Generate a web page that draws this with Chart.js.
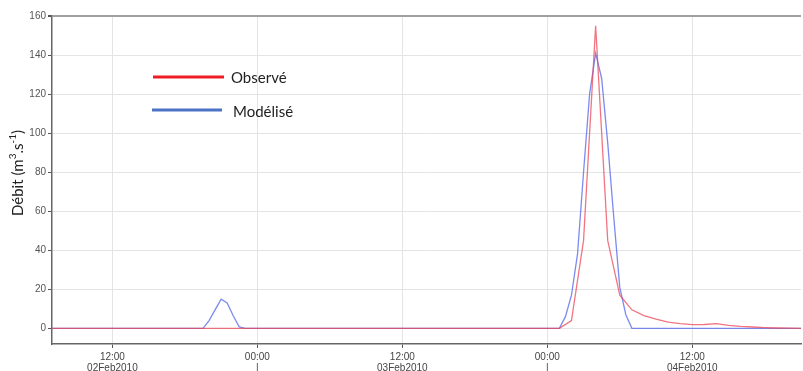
<!DOCTYPE html>
<html>
<head>
<meta charset="utf-8">
<script src="https://cdn.jsdelivr.net/npm/chart.js@4.4.1/dist/chart.umd.min.js"></script>
<style>
  html, body { margin: 0; padding: 0; background: #fff; }
  #wrap { width: 803px; height: 371px; }
</style>
</head>
<body>
<div id="wrap"><canvas id="debitChart" width="803" height="371"></canvas></div>
<script>
// hours counted from 02Feb2010 00:00
const obsHours = [7, 49, 50, 51, 52, 53, 54, 55, 56, 57, 58, 59, 60, 61, 62, 63, 64, 65, 66, 67, 68, 69];
const obsValues = [0, 0, 4, 45, 155, 45, 17, 9.5, 6.5, 4.7, 3.2, 2.4, 1.9, 2.0, 2.4, 1.5, 1.0, 0.7, 0.4, 0.2, 0.1, 0];

const modHours = [7, 19.5, 20, 20.5, 21, 21.5, 22, 22.5, 23, 49, 49.5, 50, 50.5, 51, 51.5, 52, 52.5, 53, 53.5, 54, 54.5, 55, 69];
const modValues = [0, 0, 4, 9.5, 15, 13, 6.5, 0.8, 0, 0, 6, 17, 38, 80, 120, 141, 128, 95, 57, 21, 7, 0, 0];

const xTickHours = [12, 24, 36, 48, 60];
const xTickLabels = [
  ['12:00', '02Feb2010'],
  ['00:00', '|'],
  ['12:00', '03Feb2010'],
  ['00:00', '|'],
  ['12:00', '04Feb2010']
];
const yTicks = [0, 20, 40, 60, 80, 100, 120, 140, 160];
const seriesNames = ['Observé', 'Modélisé'];
// y title pieces: [text, superscript?]
const yTitleParts = [['Débit (m', false], ['3', true], ['.s', false], ['-1', true], [')', false]];

const toPoints = (xs, ys) => xs.map((x, i) => ({ x: x, y: ys[i] }));

// legend drawn inside the plot, like the original
const insideLegend = {
  id: 'insideLegend',
  afterDraw(chart) {
    const ctx = chart.ctx;
    const items = [
      { text: seriesNames[0], color: '#ee1c25', x1: 153, x2: 224, y: 77, tx: 231, ty: 78 },
      { text: seriesNames[1], color: '#4a72c6', x1: 152, x2: 222, y: 110, tx: 233, ty: 112 }
    ];
    ctx.save();
    items.forEach(it => {
      ctx.strokeStyle = it.color;
      ctx.lineWidth = 3;
      ctx.beginPath();
      ctx.moveTo(it.x1, it.y);
      ctx.lineTo(it.x2, it.y);
      ctx.stroke();
      ctx.fillStyle = '#222';
      ctx.font = '15px Lato, "Open Sans", sans-serif';
      ctx.textAlign = 'left';
      ctx.textBaseline = 'middle';
      ctx.fillText(it.text, it.tx, it.ty);
    });
    ctx.restore();
  }
};

// rotated y title with real superscripts
const yTitle = {
  id: 'yTitle',
  afterDraw(chart) {
    const ctx = chart.ctx;
    const area = chart.chartArea;
    const base = '15px Lato, "Open Sans", sans-serif';
    const sup = '10px Lato, "Open Sans", sans-serif';
    ctx.save();
    let total = 0;
    yTitleParts.forEach(p => {
      ctx.font = p[1] ? sup : base;
      total += ctx.measureText(p[0]).width;
    });
    ctx.translate(18, (area.top + area.bottom) / 2 - 7);
    ctx.rotate(-Math.PI / 2);
    ctx.fillStyle = '#222';
    ctx.textBaseline = 'middle';
    ctx.textAlign = 'left';
    let x = -total / 2;
    yTitleParts.forEach(p => {
      ctx.font = p[1] ? sup : base;
      ctx.fillText(p[0], x, p[1] ? -5 : 0);
      x += ctx.measureText(p[0]).width;
    });
    ctx.restore();
  }
};

new Chart(document.getElementById('debitChart'), {
  type: 'line',
  data: {
    datasets: [
      {
        label: seriesNames[0],
        data: toPoints(obsHours, obsValues),
        borderColor: 'rgba(236, 70, 85, 0.75)',
        borderWidth: 1.3,
        pointRadius: 0,
        fill: false,
        tension: 0
      },
      {
        label: seriesNames[1],
        data: toPoints(modHours, modValues),
        borderColor: 'rgba(80, 100, 235, 0.75)',
        borderWidth: 1.3,
        pointRadius: 0,
        fill: false,
        tension: 0
      }
    ]
  },
  options: {
    responsive: false,
    animation: false,
    devicePixelRatio: 1,
    layout: { padding: { top: 16, right: 2, left: 0, bottom: 0 } },
    plugins: {
      legend: { display: false },
      tooltip: { enabled: false }
    },
    scales: {
      x: {
        type: 'linear',
        min: 7,
        max: 69,
        afterFit: scale => { scale.height = 27; },
        afterBuildTicks: scale => { scale.ticks = xTickHours.map(v => ({ value: v })); },
        ticks: {
          autoSkip: false,
          maxRotation: 0,
          padding: 3,
          color: '#444',
          font: { family: '"Liberation Sans", Arial, sans-serif', size: 10, lineHeight: 1.15 },
          callback: (value) => xTickLabels[xTickHours.indexOf(value)]
        },
        grid: { color: '#e4e4e4', lineWidth: 1, tickLength: 4, tickColor: '#555' },
        border: { color: '#666', width: 1.5 }
      },
      y: {
        min: -8,
        max: 160,
        afterFit: scale => { scale.width = 52; },
        afterBuildTicks: scale => { scale.ticks = yTicks.map(v => ({ value: v })); },
        ticks: {
          padding: 2,
          color: '#555',
          font: { family: '"Liberation Sans", Arial, sans-serif', size: 10 }
        },
        grid: {
          color: c => (c.tick && c.tick.value === 160 ? '#a0a0a0' : '#e4e4e4'),
          lineWidth: c => (c.tick && c.tick.value === 160 ? 2 : 1),
          tickLength: 4,
          tickColor: '#555'
        },
        border: { color: '#666', width: 1.5 }
      }
    }
  },
  plugins: [insideLegend, yTitle]
});
</script>
</body>
</html>
